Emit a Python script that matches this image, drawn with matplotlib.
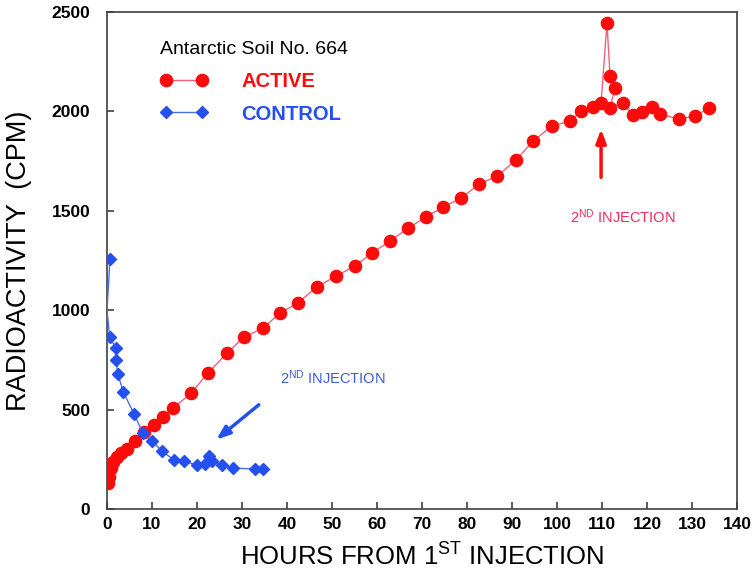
import numpy as np
import matplotlib
matplotlib.use('Agg')
import matplotlib.pyplot as plt

plt.rcParams['font.family'] = ['Liberation Sans', 'DejaVu Sans']
plt.rcParams['mathtext.fontset'] = 'custom'
plt.rcParams['mathtext.rm'] = 'Liberation Sans'
plt.rcParams['mathtext.it'] = 'Liberation Sans:italic'
plt.rcParams['mathtext.bf'] = 'Liberation Sans:bold'

# active soil (hours, cpm)
active_h = [0.3, 0.5, 0.8, 1.3, 2.2, 3.1, 4.4, 6.2, 8.2, 10.4, 12.4, 14.7, 18.7,
            22.4, 26.7, 30.4, 34.7, 38.4, 42.4, 46.6, 50.9, 55.1, 58.9, 62.9,
            66.9, 70.9, 74.7, 78.7, 82.7, 86.7, 90.9, 94.7, 98.9, 102.9, 105.3,
            108.0, 109.8, 111.1, 111.8, 112.9, 111.8, 114.7, 116.9, 118.9,
            121.1, 122.9, 127.1, 130.7, 133.8]
active_cpm = [130, 160, 205, 235, 262, 282, 302, 342, 387, 422, 463, 508, 583,
              684, 785, 865, 910, 985, 1036, 1117, 1172, 1222, 1288, 1348,
              1413, 1469, 1519, 1564, 1635, 1675, 1756, 1851, 1927, 1952, 2002,
              2022, 2042, 2445, 2180, 2117, 2020, 2042, 1982, 1997,
              2022, 1987, 1962, 1977, 2017]

# control soil
control_h = [0.67, 0.0, 0.6, 2.0, 2.0, 2.4, 3.6, 6.0, 8.0, 10.0, 12.2, 14.9,
             17.1, 20.0, 21.8, 22.7, 23.3, 25.6, 28.0, 32.9, 34.7]
control_cpm = [1260, 1000, 865, 810, 750, 680, 590, 478, 382, 342, 292, 246,
               241, 221, 226, 267, 241, 221, 206, 201, 201]

fig = plt.figure(figsize=(7.52, 5.76), dpi=100)
ax = fig.add_axes([0.1423, 0.1163, 0.8377, 0.8627])

red = '#ff0a0a'
blue = '#2450f0'

ax.plot(active_h, active_cpm, '-', color='#f2607c', lw=1.0, marker='o',
        ms=8.8, mfc=red, mec=red, label='ACTIVE', zorder=3)
ax.plot(control_h, control_cpm, '-', color='#4a6ee8', lw=1.0, marker='D',
        ms=6.0, mfc=blue, mec=blue, label='CONTROL',
        markevery=[i for i in range(len(control_h)) if i != 1], zorder=3)

ax.set_xlim(0, 140)
ax.set_ylim(0, 2500)
ax.set_xticks(np.arange(0, 141, 10))
ax.set_yticks(np.arange(0, 2501, 500))
ax.tick_params(direction='in', length=5, width=1.2, color='#404040')
ax.tick_params(axis='y', pad=12)
ax.tick_params(axis='x', pad=6)
for lab in ax.get_xticklabels() + ax.get_yticklabels():
    lab.set_fontweight('bold')
    lab.set_fontsize(12.5)
for s in ax.spines.values():
    s.set_color('#404040')
    s.set_linewidth(1.2)

ax.set_ylabel('RADIOACTIVITY  (CPM)', fontsize=19.5, labelpad=14)
ax.set_xlabel(r'HOURS FROM 1$^{\rm ST}$ INJECTION', fontsize=18.5, labelpad=8)

leg = ax.legend(loc='upper left', bbox_to_anchor=(0.055, 0.978),
                frameon=False, title='Antarctic Soil No. 664',
                title_fontproperties={'size': 14}, alignment='left',
                prop={'weight': 'bold', 'size': 14.5}, labelcolor=[red, blue],
                numpoints=2, handlelength=2.4, handletextpad=1.65,
                labelspacing=0.68)

# injection markers
ax.annotate('', xy=(109.8, 1925), xytext=(109.8, 1655),
            arrowprops=dict(arrowstyle='-|>,head_length=0.8,head_width=0.3',
                            color=red, lw=2.5))
ax.text(102.9, 1469, r'2$^{\rm ND}$ INJECTION', color='#f0285a', fontsize=10.5,
        va='center', ha='left')
ax.annotate('', xy=(23.8, 340), xytext=(34.2, 533),
            arrowprops=dict(arrowstyle='-|>,head_length=0.8,head_width=0.3',
                            color=blue, lw=2.5))
ax.text(38.4, 659, r'2$^{\rm ND}$ INJECTION', color='#3a5ae0', fontsize=10.5,
        va='center', ha='left')

fig.savefig('out.png', dpi=100)
